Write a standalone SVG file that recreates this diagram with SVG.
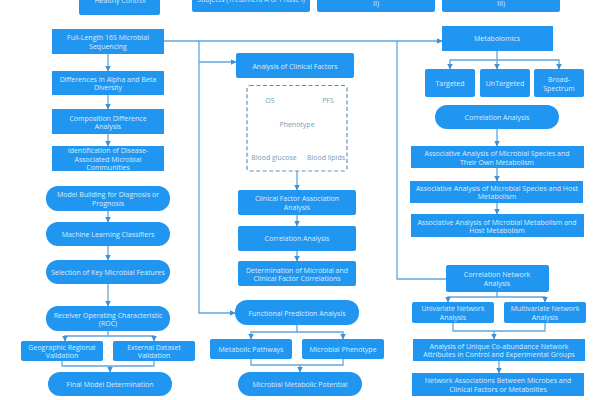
<svg xmlns="http://www.w3.org/2000/svg" width="600" height="400" viewBox="0 0 600 400">
<style>
.n{fill:#2196f0}
text{font-family:"Open Sans","Noto Sans",sans-serif;font-size:7px;fill:#dcedfc;text-anchor:middle}
.p{fill:#6f9fc0}
.c{fill:none;stroke:#62a6dc;stroke-width:1.3}
.a{fill:#3c91d8;stroke:none}
</style>
<defs><marker id="m" markerWidth="6" markerHeight="6" refX="5.500" refY="3" orient="auto" markerUnits="userSpaceOnUse"><path class="a" d="M0,0L6,3L0,6Z"/></marker></defs>
<rect width="600" height="400" fill="#fff"/>
<g id="connectors">
<path class="c" d="M108,54V71" marker-end="url(#m)"/>
<path class="c" d="M108,95V109" marker-end="url(#m)"/>
<path class="c" d="M108,134V146" marker-end="url(#m)"/>
<path class="c" d="M108,211V222" marker-end="url(#m)"/>
<path class="c" d="M108,246V260" marker-end="url(#m)"/>
<path class="c" d="M108,284V306" marker-end="url(#m)"/>
<path class="c" d="M108,331V336H65V341" marker-end="url(#m)"/>
<path class="c" d="M108,336H154V341" marker-end="url(#m)"/>
<path class="c" d="M62,361V366H154V361"/>
<path class="c" d="M110,366V372" marker-end="url(#m)"/>
<path class="c" d="M164,41H442" marker-end="url(#m)"/>
<path class="c" d="M199,41V313H235" marker-end="url(#m)"/>
<path class="c" d="M199,62H236" marker-end="url(#m)"/>
<path class="c" d="M397,41V279H446"/>
<path class="c" d="M297,171V190" marker-end="url(#m)"/>
<path class="c" d="M297,215V226" marker-end="url(#m)"/>
<path class="c" d="M297,251V261" marker-end="url(#m)"/>
<path class="c" d="M297,325V332H251V339" marker-end="url(#m)"/>
<path class="c" d="M297,332H343V339" marker-end="url(#m)"/>
<path class="c" d="M251,359V365H343V359"/>
<path class="c" d="M300,365V372" marker-end="url(#m)"/>
<path class="c" d="M497,51V69" marker-end="url(#m)"/>
<path class="c" d="M497,60H450V69" marker-end="url(#m)"/>
<path class="c" d="M497,60H559V69" marker-end="url(#m)"/>
<path class="c" d="M497,129V146" marker-end="url(#m)"/>
<path class="c" d="M497,168V181" marker-end="url(#m)"/>
<path class="c" d="M497,203V214" marker-end="url(#m)"/>
<path class="c" d="M497,292V297H448V302" marker-end="url(#m)"/>
<path class="c" d="M497,297H545V302" marker-end="url(#m)"/>
<path class="c" d="M453,323V331H545V323"/>
<path class="c" d="M494,331V339" marker-end="url(#m)"/>
<path class="c" d="M499,361V373" marker-end="url(#m)"/>
</g>
<g id="n0"><rect class="n" x="79" y="-10" width="81" height="25" rx="2"/><text x="120" y="3">Healthy Control</text></g>
<g id="n1"><rect class="n" x="192" y="-10" width="118" height="22" rx="2"/><text x="251" y="2">Subjects (Treatment A or Phase I)</text></g>
<g id="n2"><rect class="n" x="317" y="-10" width="118" height="22" rx="2"/><text x="376" y="6">II)</text></g>
<g id="n3"><rect class="n" x="442" y="-10" width="118" height="22" rx="2"/><text x="501" y="6">III)</text></g>
<g id="n4"><rect class="n" x="52" y="29" width="112" height="25"/><text x="108" y="40">Full-Length 16S Microbial</text><text x="108" y="48.500">Sequencing</text></g>
<g id="n5"><rect class="n" x="52" y="71" width="112" height="24"/><text x="108" y="81.500">Differences in Alpha and Beta</text><text x="108" y="90">Diversity</text></g>
<g id="n6"><rect class="n" x="52" y="109" width="112" height="25"/><text x="108" y="120.500">Composition Difference</text><text x="108" y="129">Analysis</text></g>
<g id="n7"><rect class="n" x="52" y="146" width="112" height="25"/><text x="108" y="153">Identification of Disease-</text><text x="108" y="161.500">Associated Microbial</text><text x="108" y="170">Communities</text></g>
<g id="n8"><rect class="n" x="46" y="186" width="124" height="25" rx="12"/><text x="108" y="197">Model Building for Diagnosis or</text><text x="108" y="205.500">Prognosis</text></g>
<g id="n9"><rect class="n" x="46" y="222" width="124" height="24" rx="12"/><text x="108" y="236.500">Machine Learning Classifiers</text></g>
<g id="n10"><rect class="n" x="46" y="260" width="124" height="24" rx="12"/><text x="108" y="275">Selection of Key Microbial Features</text></g>
<g id="n11"><rect class="n" x="46" y="306" width="124" height="25" rx="12"/><text x="108" y="317.500">Receiver Operating Characteristic</text><text x="108" y="326">(ROC)</text></g>
<g id="n12"><rect class="n" x="21" y="341" width="82" height="20" rx="2"/><text x="62" y="349.500">Geographic Regional</text><text x="62" y="358">Validation</text></g>
<g id="n13"><rect class="n" x="113" y="341" width="82" height="20" rx="2"/><text x="154" y="349.500">External Dataset</text><text x="154" y="358">Validation</text></g>
<g id="n14"><rect class="n" x="48" y="372" width="124" height="24" rx="12"/><text x="110" y="386.500">Final Model Determination</text></g>
<g id="n15"><rect class="n" x="236" y="53" width="118" height="25" rx="2"/><text x="295" y="68.500">Analysis of Clinical Factors</text></g>
<g id="n16"><rect x="247" y="85.500" width="100" height="85.500" rx="3" fill="none" stroke="#5a94bd" stroke-width="1.200" stroke-dasharray="4 2.500"/><text class="p" x="270" y="102.500">OS</text><text class="p" x="328" y="102.500">PFS</text><text class="p" x="297" y="126.500">Phenotype</text><text class="p" x="274" y="160">Blood glucose</text><text class="p" x="326" y="160">Blood lipids</text></g>
<g id="n17"><rect class="n" x="238" y="190" width="118" height="25" rx="2"/><text x="297" y="200.500">Clinical Factor Association</text><text x="297" y="209.500">Analysis</text></g>
<g id="n18"><rect class="n" x="238" y="226" width="118" height="25" rx="2"/><text x="297" y="241">Correlation Analysis</text></g>
<g id="n19"><rect class="n" x="238" y="261" width="118" height="25" rx="2"/><text x="297" y="272.500">Determination of Microbial and</text><text x="297" y="281">Clinical Factor Correlations</text></g>
<g id="n20"><rect class="n" x="235" y="300" width="124" height="25" rx="12"/><text x="297" y="315.500">Functional Prediction Analysis</text></g>
<g id="n21"><rect class="n" x="210" y="339" width="82" height="20" rx="2"/><text x="251" y="351.500">Metabolic Pathways</text></g>
<g id="n22"><rect class="n" x="302" y="339" width="82" height="20" rx="2"/><text x="343" y="351.500">Microbial Phenotype</text></g>
<g id="n23"><rect class="n" x="238" y="372" width="124" height="24" rx="12"/><text x="300" y="386.500">Microbial Metabolic Potential</text></g>
<g id="n24"><rect class="n" x="442" y="26" width="111" height="25"/><text x="497" y="41">Metabolomics</text></g>
<g id="n25"><rect class="n" x="425" y="69" width="50" height="28" rx="2"/><text x="450" y="86">Targeted</text></g>
<g id="n26"><rect class="n" x="480" y="69" width="50" height="28" rx="2"/><text x="505" y="86">UnTargeted</text></g>
<g id="n27"><rect class="n" x="534" y="69" width="50" height="28" rx="2"/><text x="559" y="82">Broad-</text><text x="559" y="90.500">Spectrum</text></g>
<g id="n28"><rect class="n" x="435" y="105" width="124" height="24" rx="12"/><text x="497" y="120">Correlation Analysis</text></g>
<g id="n29"><rect class="n" x="411" y="146" width="173" height="22"/><text x="497" y="156">Associative Analysis of Microbial Species and</text><text x="497" y="164.500">Their Own Metabolism</text></g>
<g id="n30"><rect class="n" x="410" y="181" width="173" height="22"/><text x="497" y="190.500">Associative Analysis of Microbial Species and Host</text><text x="497" y="199">Metabolism</text></g>
<g id="n31"><rect class="n" x="411" y="214" width="173" height="23"/><text x="497" y="224.500">Associative Analysis of Microbial Metabolism and</text><text x="497" y="233">Host Metabolism</text></g>
<g id="n32"><rect class="n" x="446" y="265" width="103" height="27" rx="2"/><text x="497" y="277">Correlation Network</text><text x="497" y="285.500">Analysis</text></g>
<g id="n33"><rect class="n" x="412" y="302" width="82" height="21" rx="2"/><text x="453" y="311">Univariate Network</text><text x="453" y="319.500">Analysis</text></g>
<g id="n34"><rect class="n" x="504" y="302" width="82" height="21" rx="2"/><text x="545" y="311">Multivariate Network</text><text x="545" y="319.500">Analysis</text></g>
<g id="n35"><rect class="n" x="413" y="339" width="172" height="22"/><text x="499" y="348.500">Analysis of Unique Co-abundance Network</text><text x="499" y="357">Attributes in Control and Experimental Groups</text></g>
<g id="n36"><rect class="n" x="412" y="373" width="172" height="23"/><text x="498" y="383">Network Associations Between Microbes and</text><text x="498" y="391.500">Clinical Factors or Metabolites</text></g>
</svg>
